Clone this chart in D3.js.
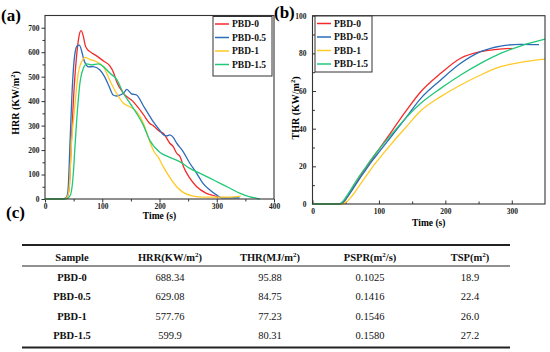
<!DOCTYPE html>
<html><head><meta charset="utf-8">
<script src="https://cdn.jsdelivr.net/npm/d3@7"></script>
<style>body{margin:0;background:#fff}svg{display:block}svg text{font-family:"Liberation Serif","Times New Roman",serif !important}</style>
</head><body><svg id="c" width="550" height="352"></svg>
<script>
const seriesNames = ["PBD-0","PBD-0.5","PBD-1","PBD-1.5"];
const seriesColors = ["#f42a2a","#2d6cb8","#ffc926","#22c878"];

// HRR (kW/m2) vs time (s)
const hrrT0 = [0,30,38,42,46,50,55,59,63,67,70,74,80,90,102,113,120,125,137,154,172,183,189,201,207,218,224,230,236,242,253,265,282,300,303];
const hrrV0 = [0,0,5,40,230,420,580,660,688,665,630,612,600,585,564,545,515,480,432,398,345,309,300,275,268,228,214,187,173,132,85,50,23,9,4];
const hrrT05 = [0,30,37,40,44,48,52,56,60,64,68,72,76,84,96,104,112,119,125,131,137,143,151,160,172,180,189,199,207,213,218,224,230,241,253,265,276,288,300,309,320,340];
const hrrV05 = [0,0,5,30,250,470,590,625,629,605,568,548,540,541,527,500,460,425,421,425,432,448,430,425,380,350,316,285,262,258,262,252,228,195,146,105,64,37,16,5,5,5];
const hrrT1 = [0,30,38,42,46.6,52,58,64,70,78,90,102,113,125,137,148,160,172,183,190,198,207,218,230,242,259,276,300,320,342];
const hrrV1 = [0,0,5,40,241,377,514,561,579,571,561,541,486,432,391,377,357,309,235,195,170,130,88,50,26,12,8,8,8,12];
const hrrT15 = [0,35,40,45,49.5,52,55,61,67,73,81.5,93,102,113.5,125,137,148.5,160,171.7,183,201,218,236,253,271,288,306,323,341,358,370,375];
const hrrV15 = [0,0,3,20,105,200,309,473,534,552,548,552,541,514,490,432,391,350,302,240,190,170,152,125,105,85,64,44,23,9,3,0];

// THR (MJ/m2) vs time (s)
const thrT0 = [0,40,45,50,60,70,80,90,100,120,140,163,193,223,253,278,301];
const thrV0 = [0,0,0.5,2.5,8,13.5,19,24,29,39,49,59.6,69.4,77.4,80.9,82.1,82.7];
const thrT05 = [0,40,45,50,60,70,80,90,100,120,140,163,193,223,253,283,313,341];
const thrV05 = [0,0,0.5,2.5,7.5,13,18,23,27.5,36.5,45.5,56.1,65.9,74.7,80.9,83.9,84.8,84.6];
const thrT1 = [0,45,50,60,70,80,90,100,120,140,163,193,223,253,283,313,350];
const thrV1 = [0,0,0.8,4.5,9.5,14.5,19.5,24,32.5,40.5,49.5,57,63.2,68.5,72.9,75.2,76.9];
const thrT15 = [0,40,43,50,60,70,80,90,100,120,140,163,193,223,253,283,313,350];
const thrV15 = [0,0,0.5,3.5,9,14.5,19.5,24.5,29,37.5,45.5,53.5,61.4,68.5,74.7,80,83.9,87.5];

const hrrXTicks = [0,100,200,300,400];
const hrrYTicks = [0,100,200,300,400,500,600,700];
const thrXTicks = [0,100,200,300];
const thrYTicks = [0,20,40,60,80,100];

// table
const tableHeader = ["Sample","HRR(KW/m²)","THR(MJ/m²)","PSPR(m²/s)","TSP(m²)"];
const tableSamples = ["PBD-0","PBD-0.5","PBD-1","PBD-1.5"];
const tableHRR = ["688.34","629.08","577.76","599.9"];
const tableTHR = ["95.88","84.75","77.23","80.31"];
const tablePSPR = ["0.1025","0.1416","0.1546","0.1580"];
const tableTSP = ["18.9","22.4","26.0","27.2"];

const svg = d3.select("#c");
const zip = (t,v)=>t.map((d,i)=>[d,v[i]]);

function panel(opt){
  const g = svg.append("g");
  const x = d3.scaleLinear().domain(opt.xd).range([opt.l,opt.r]);
  const y = d3.scaleLinear().domain(opt.yd).range([opt.b,opt.t]);
  const tk = opt.inside ? -1 : 1;
  const xa = d3.axisBottom(x).tickValues(opt.xMinor).tickSize(2.5*tk).tickFormat("");
  g.append("g").attr("transform",`translate(0,${opt.b})`).call(xa).call(s=>s.select(".domain").remove());
  const ya = d3.axisLeft(y).tickValues(opt.yMinor).tickSize(2.5*tk).tickFormat("");
  g.append("g").attr("transform",`translate(${opt.l},0)`).call(ya).call(s=>s.select(".domain").remove());
  const xA = d3.axisBottom(x).tickValues(opt.xTicks).tickSize(3.5*tk).tickPadding(opt.inside?5:1.5);
  const gx = g.append("g").attr("transform",`translate(0,${opt.b})`).call(xA);
  gx.select(".domain").remove();
  gx.selectAll("text").attr("font-size",7.5).attr("font-weight","bold").attr("fill","#222");
  const yA = d3.axisLeft(y).tickValues(opt.yTicks).tickSize(3.5*tk).tickPadding(opt.inside?6:2);
  const gy = g.append("g").attr("transform",`translate(${opt.l},0)`).call(yA);
  gy.select(".domain").remove();
  gy.selectAll("text").attr("font-size",7.5).attr("font-weight","bold").attr("fill","#222");
  g.selectAll(".tick line").attr("stroke","#333");
  const line = d3.line().x(d=>x(d[0])).y(d=>y(d[1])).curve(d3.curveMonotoneX);
  opt.data.forEach((d,i)=>{
    g.append("path").attr("d",line(d)).attr("fill","none").attr("stroke",seriesColors[i]).attr("stroke-width",1.3);
  });
  g.append("rect").attr("x",opt.l).attr("y",opt.t).attr("width",opt.r-opt.l).attr("height",opt.b-opt.t)
    .attr("fill","none").attr("stroke","#333").attr("stroke-width",1.1);
  const L = opt.leg;
  g.append("rect").attr("x",L.x).attr("y",L.y).attr("width",L.w).attr("height",L.h).attr("fill","#fff").attr("stroke","#333").attr("stroke-width",1);
  seriesNames.forEach((n,i)=>{
    const yy = L.y+7.5+i*13.5;
    g.append("line").attr("x1",L.x+2).attr("x2",L.x+16).attr("y1",yy).attr("y2",yy).attr("stroke",seriesColors[i]).attr("stroke-width",1.5);
    g.append("text").attr("x",L.x+19).attr("y",yy+3.3).attr("font-size",9.5).attr("font-weight","bold").attr("fill","#111").text(n);
  });
  g.append("text").attr("x",(opt.l+opt.r)/2).attr("y",opt.xtY).attr("text-anchor","middle").attr("font-size",9.5).attr("font-weight","bold").text("Time (s)");
  const yt = g.append("text").attr("transform",`translate(${opt.ytX},${opt.ytY}) rotate(-90)`).attr("text-anchor","middle").attr("font-size",10).attr("font-weight","bold");
  yt.append("tspan").text(opt.ytitle+" (KW/m");
  yt.append("tspan").attr("font-size",6.5).attr("dy",-4).text("2");
  yt.append("tspan").attr("dy",4).text(")");
  svg.append("text").attr("x",opt.lab[0]).attr("y",opt.lab[1]).attr("font-size",17).attr("font-weight","bold").text(opt.label);
}

panel({xd:[0,400],yd:[0,750],l:45,r:274,t:15.5,b:199,inside:false,
  xTicks:hrrXTicks,yTicks:hrrYTicks,xMinor:[50,150,250,350],yMinor:[50,150,250,350,450,550,650],
  data:[zip(hrrT0,hrrV0),zip(hrrT05,hrrV05),zip(hrrT1,hrrV1),zip(hrrT15,hrrV15)],
  leg:{x:213,y:16.5,w:59,h:59.5},xtY:219,ytX:19,ytY:103,ytitle:"HRR",label:"(a)",lab:[1,21]});

panel({xd:[0,350],yd:[0,100],l:312.5,r:545,t:15.7,b:204,inside:true,
  xTicks:thrXTicks,yTicks:thrYTicks,xMinor:[50,150,250],yMinor:[10,30,50,70,90],
  data:[zip(thrT0,thrV0),zip(thrT05,thrV05),zip(thrT1,thrV1),zip(thrT15,thrV15)],
  leg:{x:315,y:16,w:57,h:56},xtY:226,ytX:299,ytY:108,ytitle:"THR",label:"(b)",lab:[274,18]});

svg.append("text").attr("x",6).attr("y",218).attr("font-size",17).attr("font-weight","bold").text("(c)");

const cols = [72,170,270,370,470];
const tx = d3.scaleOrdinal().domain(d3.range(5)).range(cols);
svg.append("line").attr("x1",22).attr("x2",510).attr("y1",245).attr("y2",245).attr("stroke","#222").attr("stroke-width",2);
svg.append("line").attr("x1",22).attr("x2",510).attr("y1",266).attr("y2",266).attr("stroke","#222").attr("stroke-width",1);
svg.append("line").attr("x1",22).attr("x2",510).attr("y1",347.5).attr("y2",347.5).attr("stroke","#222").attr("stroke-width",2);

function supText(sel, s){
  const parts = s.split("²");
  parts.forEach((p,i)=>{
    if(i>0){ sel.append("tspan").attr("font-size",7).attr("dy",-4).text("2"); sel.append("tspan").attr("dy",4).text(p); }
    else sel.append("tspan").text(p);
  });
}
tableHeader.forEach((h,i)=>{
  const t = svg.append("text").attr("x",tx(i)).attr("y",260.5).attr("text-anchor","middle").attr("font-size",10.5).attr("font-weight","bold").attr("fill","#111");
  supText(t,h);
});
const rowY = [280.5,300,319.5,339];
tableSamples.forEach((s,r)=>{
  const vals = [s,tableHRR[r],tableTHR[r],tablePSPR[r],tableTSP[r]];
  vals.forEach((v,i)=>{
    svg.append("text").attr("x",tx(i)).attr("y",rowY[r]).attr("text-anchor","middle").attr("font-size",10.5)
      .attr("font-weight",i===0?"bold":"normal").attr("fill","#111").text(v);
  });
});
</script></body></html>
